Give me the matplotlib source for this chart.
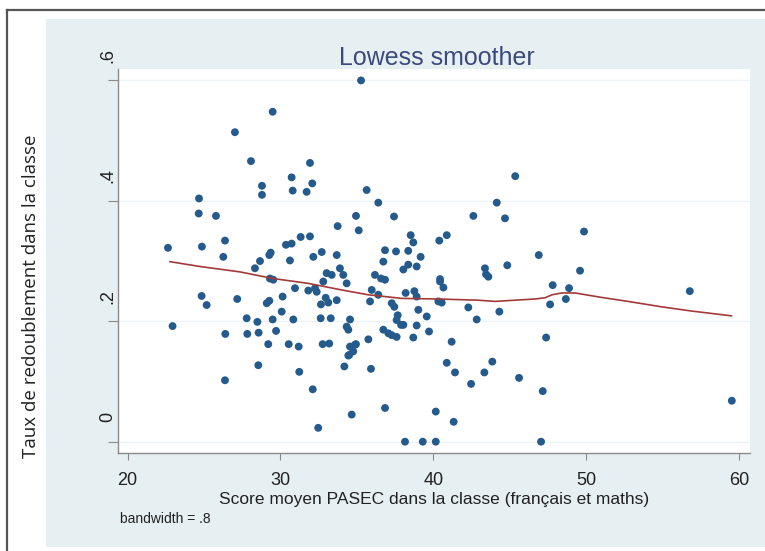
import matplotlib
matplotlib.use("Agg")
import matplotlib.pyplot as plt
from matplotlib.lines import Line2D
from matplotlib.transforms import offset_copy

# score moyen PASEC (x) / taux de redoublement (y)
score = [35.27, 29.49, 27.02, 28.07, 31.93, 30.73, 32.08, 28.79, 28.79, 30.80,
         31.71, 35.64, 36.40, 24.67, 24.65, 25.78, 33.74, 34.94, 35.12, 37.43,
         22.64, 24.86, 26.37, 26.26, 30.36, 30.73, 31.32, 31.93, 32.70, 32.15,
         33.68, 28.66, 29.27, 29.36, 30.62, 28.33, 36.84, 37.56, 36.73, 45.36,
         44.15, 44.69, 42.62, 49.86, 38.52, 38.69, 40.39, 40.88, 38.36, 39.17,
         46.90, 49.60, 44.84, 43.38, 43.60, 38.04, 38.36, 38.91, 40.44,
         22.94, 24.84, 25.17, 27.17, 27.79, 28.49, 29.49, 30.08, 30.14, 29.10,
         29.27, 26.39, 27.83, 28.57, 29.71, 30.84, 30.95, 29.20, 30.54, 31.19,
         32.76, 33.19, 28.55, 26.37, 31.23, 32.11, 32.47, 34.66, 36.84, 34.18,
         35.92, 35.75, 34.55, 34.94, 34.76, 34.50, 34.33, 34.44, 34.55, 32.63,
         33.29, 32.65, 33.13, 33.68, 31.82, 32.37, 32.80, 35.86, 35.97, 36.40,
         36.73, 37.06, 37.28, 37.60, 29.53, 29.31, 33.02, 33.35, 33.89, 34.11,
         34.33, 36.18, 36.84, 32.26, 32.96, 36.58, 37.45, 37.67, 37.89, 38.04,
         37.28, 37.60, 38.19, 38.76, 38.91, 39.02, 39.57, 38.91, 38.69, 39.72,
         38.15, 39.31, 40.16, 40.16, 40.33, 40.44, 40.66, 40.55, 43.45, 47.81,
         48.88, 47.64, 48.67, 42.29, 42.84, 44.32, 41.20, 47.38, 40.88, 41.42,
         42.47, 43.34, 43.86, 45.61, 47.16, 41.33, 47.05, 56.78, 59.53, 34.88,
         34.44]
taux = [0.600, 0.548, 0.514, 0.466, 0.463, 0.439, 0.429, 0.425, 0.410, 0.417,
        0.415, 0.418, 0.397, 0.404, 0.379, 0.375, 0.358, 0.375, 0.351, 0.374,
        0.322, 0.324, 0.334, 0.307, 0.327, 0.329, 0.340, 0.341, 0.315, 0.307,
        0.310, 0.300, 0.310, 0.314, 0.301, 0.288, 0.318, 0.316, 0.299, 0.441,
        0.397, 0.371, 0.375, 0.349, 0.343, 0.331, 0.334, 0.343, 0.317, 0.307,
        0.310, 0.284, 0.293, 0.288, 0.274, 0.286, 0.294, 0.291, 0.270,
        0.192, 0.242, 0.227, 0.237, 0.205, 0.199, 0.203, 0.216, 0.241, 0.230,
        0.234, 0.179, 0.179, 0.181, 0.184, 0.203, 0.255, 0.162, 0.162, 0.158,
        0.162, 0.163, 0.127, 0.102, 0.116, 0.087, 0.023, 0.045, 0.056, 0.125,
        0.121, 0.170, 0.158, 0.162, 0.150, 0.144, 0.191, 0.186, 0.203, 0.205,
        0.205, 0.228, 0.231, 0.235, 0.251, 0.249, 0.266, 0.233, 0.252, 0.244,
        0.186, 0.180, 0.230, 0.202, 0.269, 0.271, 0.280, 0.277, 0.288, 0.277,
        0.263, 0.277, 0.269, 0.255, 0.239, 0.271, 0.224, 0.210, 0.194, 0.194,
        0.177, 0.174, 0.247, 0.250, 0.241, 0.219, 0.208, 0.193, 0.173, 0.183,
        0.000, 0.000, 0.000, 0.050, 0.233, 0.266, 0.256, 0.231, 0.278, 0.260,
        0.255, 0.228, 0.237, 0.223, 0.203, 0.216, 0.166, 0.173, 0.131, 0.115,
        0.096, 0.115, 0.133, 0.106, 0.084, 0.033, 0.000, 0.250, 0.068, 0.161,
        0.143]

# lowess curve (bandwidth .8)
lowess_x = [22.77, 24.73, 27.35, 29.52, 31.80, 34.01, 35.73, 36.84, 37.93, 40.31,
            42.93, 44.04, 46.66, 47.31, 47.77, 48.42, 49.28, 50.91, 52.74, 54.93,
            56.89, 59.51]
lowess_y = [0.299, 0.291, 0.282, 0.271, 0.263, 0.252, 0.244, 0.241, 0.238, 0.237,
            0.235, 0.233, 0.237, 0.239, 0.244, 0.247, 0.247, 0.240, 0.233, 0.224,
            0.217, 0.209]

x_ticks = [20, 30, 40, 50, 60]
y_ticks = [0, 0.2, 0.4, 0.6]
y_tick_labels = ["0", ".2", ".4", ".6"]

plt.rcParams["font.family"] = ["Liberation Sans", "DejaVu Sans"]

W, H = 765, 551
fig = plt.figure(figsize=(W / 100, H / 100), dpi=100)
fig.patch.set_facecolor("white")

# outer frame (only top and left visible) and stata graph region
fig.add_artist(Line2D([7 / W, 7 / W], [0, 1 - 10 / H], color="#555555", lw=1.6))
fig.add_artist(Line2D([7 / W, 1], [1 - 10 / H, 1 - 10 / H], color="#555555", lw=1.6))
fig.add_artist(plt.Rectangle((46 / W, 1 - 547 / H), 1 - 46 / W, (547 - 19) / H,
                             facecolor="#e6eff2", edgecolor="none", zorder=0))

ax = fig.add_axes([118 / W, 1 - 453 / H, (750 - 118) / W, (453 - 69) / H])
ax.set_facecolor("white")
ax.set_xlim(19.37, 60.72)
ax.set_ylim(-0.0188, 0.619)

for yv in y_ticks:
    ax.axhline(yv, color="#eef4f6", lw=1.0, zorder=0)

ax.scatter(score, taux, s=32, color="#245b8c", edgecolors="none", zorder=3)
ax.plot(lowess_x, lowess_y, color="#a33a3a", lw=1.2, zorder=4)

for side in ["top", "right"]:
    ax.spines[side].set_visible(False)
for side in ["left", "bottom"]:
    ax.spines[side].set_color("#8a8a8a")
    ax.spines[side].set_linewidth(1.0)

ax.set_xticks(x_ticks)
ax.set_xticklabels([str(v) for v in x_ticks])
ax.tick_params(axis="x", length=5, color="#8a8a8a", pad=9, labelsize=13, labelcolor="#222222")
ax.set_yticks(y_ticks)
ax.set_yticklabels([])
ax.tick_params(axis="y", length=7, color="#8a8a8a")

# y tick labels sit a little above their ticks in the reference
lab_tr = offset_copy(ax.get_yaxis_transform(), fig=fig, x=-1, y=18, units="points")
for yv, lab in zip(y_ticks, y_tick_labels):
    ax.text(0.0, yv, lab, transform=lab_tr, rotation=90, ha="right", va="center",
            fontsize=13, color="#222222")

ax.set_xlabel("Score moyen PASEC dans la classe (français et maths)",
              fontsize=12.5, color="#222222", labelpad=2)

fig.text(437 / W, 1 - 65 / H, "Lowess smoother", ha="center", va="baseline",
         fontsize=18, color="#3c4a7c")
fig.text(120 / W, 1 - 519 / H, "bandwidth = .8", ha="left", va="center",
         fontsize=10, color="#222222")
fig.text(31 / W, 1 - 296 / H, "Taux de redoublement dans la classe", rotation=90,
         ha="center", va="center", fontsize=13.5, color="#222222",
         family=["Open Sans", "DejaVu Sans"])

fig.savefig("out.png", dpi=100)
